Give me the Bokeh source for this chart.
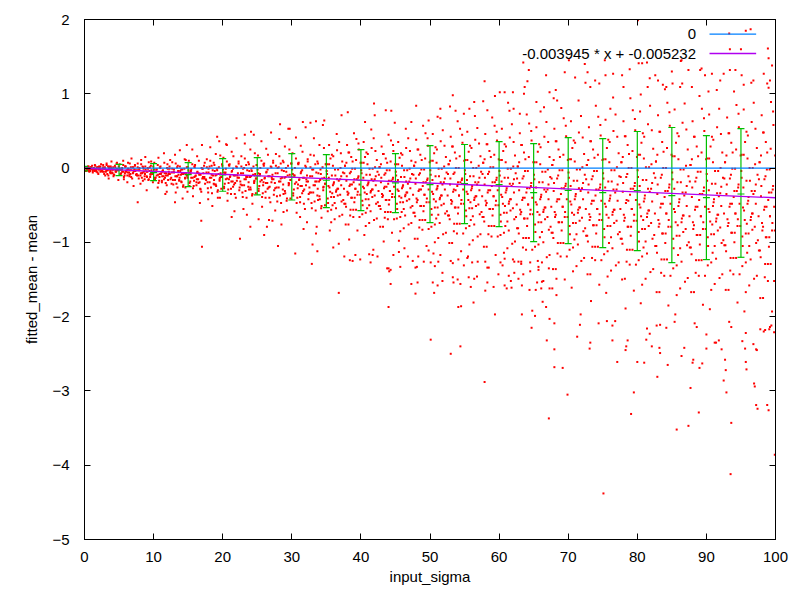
from bokeh.plotting import figure
from bokeh.models import Range1d, FixedTicker, LinearAxis, Label, BoxAnnotation
from bokeh.embed import file_html
from bokeh.resources import INLINE

# ---------------- data ----------------
x_ticks = [0, 10, 20, 30, 40, 50, 60, 70, 80, 90, 100]
y_ticks = [-5, -4, -3, -2, -1, 0, 1, 2]

# error bars
err_x = [0, 5, 10, 15, 20, 25, 30, 35, 40, 45, 50, 55, 60, 65, 70, 75, 80, 85, 90, 95]
err_mean = [-0.007, -0.025, -0.061, -0.088, -0.093, -0.106, -0.12, -0.164, -0.164, -0.20,
            -0.222, -0.209, -0.222, -0.33, -0.299, -0.33, -0.303, -0.37, -0.397, -0.349]
err_high = [0.024, 0.051, 0.06, 0.074, 0.128, 0.141, 0.195, 0.182, 0.249, 0.195,
            0.303, 0.317, 0.357, 0.33, 0.411, 0.397, 0.492, 0.546, 0.438, 0.532]
err_low = [-0.039, -0.101, -0.169, -0.249, -0.312, -0.362, -0.43, -0.532, -0.572, -0.599,
           -0.734, -0.748, -0.788, -0.99, -1.017, -1.071, -1.111, -1.273, -1.232, -1.201]

# zero line and fitted line
zero_x = [0, 100]
zero_y = [0, 0]
fit_x = [0, 100]
fit_y = [-0.005232, -0.399732]
zero_label = "0"
fit_label = "-0.003945 * x + -0.005232"

# scatter cloud, near region (x < 35)
near_x = [
    0.1, 0.3, 0.5, 0.6, 0.8, 0.9, 1.1, 1.2, 1.4, 1.5, 1.7, 1.8, 2.0, 2.1, 2.3, 2.4,
    2.6, 2.7, 2.9, 3.0, 3.2, 3.3, 3.5, 3.6, 3.8, 3.9, 4.1, 4.2, 4.4, 4.5, 4.7, 4.9,
    5.1, 5.2, 5.4, 5.6, 5.7, 5.9, 6.0, 6.2, 6.3, 6.5, 6.7, 6.8, 7.0, 7.1, 7.3, 7.4,
    7.6, 7.7, 7.9, 8.1, 8.2, 8.4, 8.5, 8.7, 8.8, 9.0, 9.2, 9.3, 9.5, 9.6, 9.8, 9.9,
    10.1, 10.2, 10.4, 10.6, 10.7, 10.9, 11.0, 11.2, 11.3, 11.5, 11.7, 11.8, 12.0, 12.1, 12.3, 12.4,
    12.6, 12.7, 12.9, 13.1, 13.2, 13.4, 13.5, 13.7, 13.8, 14.0, 14.2, 14.3, 14.5, 14.6, 14.8, 14.9,
    15.1, 15.2, 15.4, 15.6, 15.7, 15.9, 16.0, 16.2, 16.3, 16.5, 16.7, 16.8, 17.0, 17.1, 17.3, 17.4,
    17.6, 17.7, 17.9, 18.1, 18.2, 18.4, 18.5, 18.7, 18.8, 19.0, 19.2, 19.3, 19.5, 19.6, 19.8, 19.9,
    20.1, 20.2, 20.4, 20.6, 20.7, 20.9, 21.0, 21.2, 21.3, 21.5, 21.7, 21.8, 22.0, 22.1, 22.3, 22.4,
    22.6, 22.7, 22.9, 23.1, 23.2, 23.4, 23.5, 23.7, 23.8, 24.0, 24.2, 24.3, 24.5, 24.6, 24.8, 24.9,
    25.1, 25.2, 25.4, 25.6, 25.7, 25.9, 26.0, 26.2, 26.3, 26.5, 26.7, 26.8, 27.0, 27.1, 27.3, 27.4,
    27.6, 27.7, 27.9, 28.1, 28.2, 28.4, 28.5, 28.7, 28.8, 29.0, 29.2, 29.3, 29.5, 29.6, 29.8, 29.9,
    30.1, 30.2, 30.4, 30.6, 30.7, 30.9, 31.0, 31.2, 31.3, 31.5, 31.7, 31.8, 32.0, 32.1, 32.3, 32.4,
    32.6, 32.7, 32.9, 33.1, 33.2, 33.4, 33.5, 33.7, 33.8, 34.0, 34.2, 34.3, 34.5, 34.6, 34.8, 34.9,
]
near_y = [
    0.01, -0.02, 0.02, -0.04, 0.00, -0.01, 0.03, -0.06, -0.02, 0.04, -0.03, 0.01, -0.08, 0.02, -0.05, 0.05,
    -0.05, 0.04, -0.01, -0.10, 0.06, -0.03, -0.14, 0.02, -0.07, 0.09, -0.02, -0.11, 0.03, -0.05, 0.07, -0.16,
    0.05, -0.08, -0.02, 0.10, -0.15, 0.02, -0.05, -0.19, 0.07, -0.11, 0.01, 0.13, -0.07, -0.24, 0.04, -0.03,
    -0.10, 0.06, -0.03, -0.21, 0.11, -0.06, 0.01, -0.15, 0.15, -0.30, -0.01, 0.08, -0.12, 0.03, -0.08, -0.19,
    0.07, -0.13, -0.02, -0.26, 0.14, -0.08, 0.02, -0.19, -0.05, 0.20, -0.35, -0.10, 0.05, -0.16, -0.01, 0.11,
    -0.21, 0.08, -0.05, 0.18, -0.33, -0.11, 0.03, -0.16, 0.24, -0.02, -0.41, -0.08, 0.12, -0.26, 0.01, -0.13,
    0.10, -0.24, -0.04, 0.25, -0.38, -0.12, 0.04, -0.19, 0.16, -0.07, -0.47, -0.29, 0.31, -0.01, -0.14, 0.07,
    -0.16, 0.12, -0.33, 0.02, 0.28, -0.09, -0.51, 0.07, -0.22, 0.19, -0.03, -0.40, 0.36, -0.13, -0.28, 0.05,
    0.14, -0.27, -0.06, 0.31, -0.44, -0.15, 0.05, -0.35, 0.22, -0.01, -0.58, -0.20, 0.40, -0.10, 0.09, -0.30,
    -0.22, 0.16, -0.39, 0.00, 0.33, -0.12, -0.63, 0.08, -0.29, 0.25, -0.04, -0.48, 0.45, -0.17, -0.34, 0.04,
    0.17, -0.31, -0.08, 0.36, -0.52, -0.19, 0.06, -0.40, 0.26, -0.02, -0.70, -0.25, 0.48, -0.13, 0.10, -0.36,
    -0.27, 0.19, -0.45, 0.01, 0.39, -0.14, -0.76, 0.10, -0.35, 0.29, -0.05, -0.57, 0.53, -0.21, -0.41, 0.06,
    0.20, -0.37, -0.10, 0.41, -0.60, -0.22, 0.07, -0.46, 0.30, -0.03, -0.82, -0.29, 0.55, -0.15, 0.12, -0.42,
    -0.33, 0.18, -0.54, -0.02, 0.40, -0.18, -0.88, 0.09, -0.43, 0.31, -0.08, -0.67, 0.58, -0.25, -0.50, 0.05,
]

# inner core of the near region (x < 35)
core_x = [
    0.15, 0.3, 0.45, 0.65, 0.8, 0.9, 1.1, 1.25, 1.35, 1.5, 1.6, 1.75, 1.95, 2.05, 2.2, 2.35,
    2.65, 2.8, 2.95, 3.15, 3.3, 3.4, 3.6, 3.75, 3.85, 4.0, 4.1, 4.25, 4.45, 4.55, 4.7, 4.85,
    5.15, 5.3, 5.45, 5.65, 5.8, 5.9, 6.1, 6.25, 6.35, 6.5, 6.6, 6.75, 6.95, 7.05, 7.2, 7.35,
    7.65, 7.8, 7.95, 8.15, 8.3, 8.4, 8.6, 8.75, 8.85, 9.0, 9.1, 9.25, 9.45, 9.55, 9.7, 9.85,
    10.15, 10.3, 10.45, 10.65, 10.8, 10.9, 11.1, 11.25, 11.35, 11.5, 11.6, 11.75, 11.95, 12.05, 12.2, 12.35,
    12.65, 12.8, 12.95, 13.15, 13.3, 13.4, 13.6, 13.75, 13.85, 14.0, 14.1, 14.25, 14.45, 14.55, 14.7, 14.85,
    15.15, 15.3, 15.45, 15.65, 15.8, 15.9, 16.1, 16.25, 16.35, 16.5, 16.6, 16.75, 16.95, 17.05, 17.2, 17.35,
    17.65, 17.8, 17.95, 18.15, 18.3, 18.4, 18.6, 18.75, 18.85, 19.0, 19.1, 19.25, 19.45, 19.55, 19.7, 19.85,
    20.15, 20.3, 20.45, 20.65, 20.8, 20.9, 21.1, 21.25, 21.35, 21.5, 21.6, 21.75, 21.95, 22.05, 22.2, 22.35,
    22.65, 22.8, 22.95, 23.15, 23.3, 23.4, 23.6, 23.75, 23.85, 24.0, 24.1, 24.25, 24.45, 24.55, 24.7, 24.85,
    25.15, 25.3, 25.45, 25.65, 25.8, 25.9, 26.1, 26.25, 26.35, 26.5, 26.6, 26.75, 26.95, 27.05, 27.2, 27.35,
    27.65, 27.8, 27.95, 28.15, 28.3, 28.4, 28.6, 28.75, 28.85, 29.0, 29.1, 29.25, 29.45, 29.55, 29.7, 29.85,
    30.15, 30.3, 30.45, 30.65, 30.8, 30.9, 31.1, 31.25, 31.35, 31.5, 31.6, 31.75, 31.95, 32.05, 32.2, 32.35,
    32.65, 32.8, 32.95, 33.15, 33.3, 33.4, 33.6, 33.75, 33.85, 34.0, 34.1, 34.25, 34.45, 34.55, 34.7, 34.85,
]
core_y = [
    0.00, -0.03, 0.01, -0.02, -0.04, 0.01, -0.01, -0.02, 0.00, -0.04, -0.01, -0.05, 0.01, -0.02, 0.00, -0.02,
    -0.01, -0.05, 0.01, -0.03, -0.08, 0.02, -0.02, -0.04, 0.00, -0.06, -0.02, -0.09, 0.01, -0.04, -0.01, -0.03,
    -0.02, -0.07, 0.00, -0.05, -0.10, 0.02, -0.03, -0.06, -0.01, -0.09, -0.03, -0.12, 0.01, -0.06, -0.02, -0.04,
    -0.03, -0.10, 0.00, -0.07, -0.13, 0.02, -0.05, -0.08, -0.02, -0.11, -0.05, -0.16, 0.01, -0.08, -0.03, -0.06,
    -0.05, -0.13, -0.02, -0.09, -0.17, 0.01, -0.07, -0.11, -0.03, -0.15, -0.07, -0.20, 0.00, -0.10, -0.05, -0.08,
    -0.06, -0.16, -0.02, -0.11, -0.21, 0.01, -0.09, -0.13, -0.04, -0.18, -0.08, -0.25, -0.01, -0.13, -0.07, -0.10,
    -0.06, -0.18, -0.02, -0.13, -0.24, 0.02, -0.10, -0.15, -0.05, -0.20, -0.09, -0.28, 0.00, -0.14, -0.07, -0.12,
    -0.06, -0.19, -0.01, -0.13, -0.26, 0.03, -0.10, -0.16, -0.04, -0.22, -0.09, -0.32, 0.01, -0.15, -0.07, -0.12,
    -0.06, -0.21, -0.01, -0.14, -0.29, 0.04, -0.11, -0.18, -0.04, -0.25, -0.10, -0.35, 0.02, -0.17, -0.07, -0.13,
    -0.07, -0.23, -0.01, -0.15, -0.31, 0.04, -0.12, -0.19, -0.04, -0.26, -0.11, -0.37, 0.02, -0.18, -0.08, -0.14,
    -0.07, -0.24, 0.00, -0.16, -0.34, 0.05, -0.13, -0.20, -0.05, -0.28, -0.11, -0.40, 0.02, -0.19, -0.09, -0.15,
    -0.07, -0.26, 0.00, -0.18, -0.37, 0.06, -0.13, -0.22, -0.04, -0.31, -0.12, -0.44, 0.03, -0.20, -0.09, -0.16,
    -0.08, -0.29, 0.00, -0.19, -0.40, 0.06, -0.15, -0.24, -0.05, -0.34, -0.13, -0.48, 0.03, -0.23, -0.10, -0.18,
    -0.11, -0.33, -0.02, -0.23, -0.45, 0.05, -0.18, -0.28, -0.07, -0.38, -0.16, -0.54, 0.01, -0.26, -0.13, -0.21,
]

# scatter cloud, second layer over the full range
dense_x = [
    0.05, 0.2, 0.35, 0.45, 0.6, 0.7, 0.85, 0.95, 1.05, 1.2, 1.3, 1.45, 1.55, 1.65, 1.8, 1.9, 2.05, 2.15, 2.3, 2.45,
    2.55, 2.7, 2.85, 2.95, 3.1, 3.2, 3.35, 3.45, 3.55, 3.7, 3.8, 3.95, 4.05, 4.15, 4.3, 4.4, 4.55, 4.65, 4.8, 4.95,
    5.05, 5.2, 5.35, 5.45, 5.6, 5.7, 5.85, 5.95, 6.05, 6.2, 6.3, 6.45, 6.55, 6.65, 6.8, 6.9, 7.05, 7.15, 7.3, 7.45,
    7.55, 7.7, 7.85, 7.95, 8.1, 8.2, 8.35, 8.45, 8.55, 8.7, 8.8, 8.95, 9.05, 9.15, 9.3, 9.4, 9.55, 9.65, 9.8, 9.95,
    10.05, 10.2, 10.35, 10.45, 10.6, 10.7, 10.85, 10.95, 11.05, 11.2, 11.3, 11.45, 11.55, 11.65, 11.8, 11.9, 12.05, 12.15, 12.3, 12.45,
    12.55, 12.7, 12.85, 12.95, 13.1, 13.2, 13.35, 13.45, 13.55, 13.7, 13.8, 13.95, 14.05, 14.15, 14.3, 14.4, 14.55, 14.65, 14.8, 14.95,
    15.05, 15.2, 15.35, 15.45, 15.6, 15.7, 15.85, 15.95, 16.05, 16.2, 16.3, 16.45, 16.55, 16.65, 16.8, 16.9, 17.05, 17.15, 17.3, 17.45,
    17.55, 17.7, 17.85, 17.95, 18.1, 18.2, 18.35, 18.45, 18.55, 18.7, 18.8, 18.95, 19.05, 19.15, 19.3, 19.4, 19.55, 19.65, 19.8, 19.95,
    20.05, 20.2, 20.35, 20.45, 20.6, 20.7, 20.85, 20.95, 21.05, 21.2, 21.3, 21.45, 21.55, 21.65, 21.8, 21.9, 22.05, 22.15, 22.3, 22.45,
    22.55, 22.7, 22.85, 22.95, 23.1, 23.2, 23.35, 23.45, 23.55, 23.7, 23.8, 23.95, 24.05, 24.15, 24.3, 24.4, 24.55, 24.65, 24.8, 24.95,
    25.05, 25.2, 25.35, 25.45, 25.6, 25.7, 25.85, 25.95, 26.05, 26.2, 26.3, 26.45, 26.55, 26.65, 26.8, 26.9, 27.05, 27.15, 27.3, 27.45,
    27.55, 27.7, 27.85, 27.95, 28.1, 28.2, 28.35, 28.45, 28.55, 28.7, 28.8, 28.95, 29.05, 29.15, 29.3, 29.4, 29.55, 29.65, 29.8, 29.95,
    30.05, 30.2, 30.35, 30.45, 30.6, 30.7, 30.85, 30.95, 31.05, 31.2, 31.3, 31.45, 31.55, 31.65, 31.8, 31.9, 32.05, 32.15, 32.3, 32.45,
    32.55, 32.7, 32.85, 32.95, 33.1, 33.2, 33.35, 33.45, 33.55, 33.7, 33.8, 33.95, 34.05, 34.15, 34.3, 34.4, 34.55, 34.65, 34.8, 34.95,
    35.05, 35.2, 35.35, 35.45, 35.6, 35.7, 35.85, 35.95, 36.05, 36.2, 36.3, 36.45, 36.55, 36.65, 36.8, 36.9, 37.05, 37.15, 37.3, 37.45,
    37.55, 37.7, 37.85, 37.95, 38.1, 38.2, 38.35, 38.45, 38.55, 38.7, 38.8, 38.95, 39.05, 39.15, 39.3, 39.4, 39.55, 39.65, 39.8, 39.95,
    40.05, 40.2, 40.35, 40.45, 40.6, 40.7, 40.85, 40.95, 41.05, 41.2, 41.3, 41.45, 41.55, 41.65, 41.8, 41.9, 42.05, 42.15, 42.3, 42.45,
    42.55, 42.7, 42.85, 42.95, 43.1, 43.2, 43.35, 43.45, 43.55, 43.7, 43.8, 43.95, 44.05, 44.15, 44.3, 44.4, 44.55, 44.65, 44.8, 44.95,
    45.05, 45.2, 45.35, 45.45, 45.6, 45.7, 45.85, 45.95, 46.05, 46.2, 46.3, 46.45, 46.55, 46.65, 46.8, 46.9, 47.05, 47.15, 47.3, 47.45,
    47.55, 47.7, 47.85, 47.95, 48.1, 48.2, 48.35, 48.45, 48.55, 48.7, 48.8, 48.95, 49.05, 49.15, 49.3, 49.4, 49.55, 49.65, 49.8, 49.95,
    50.05, 50.2, 50.35, 50.45, 50.6, 50.7, 50.85, 50.95, 51.05, 51.2, 51.3, 51.45, 51.55, 51.65, 51.8, 51.9, 52.05, 52.15, 52.3, 52.45,
    52.55, 52.7, 52.85, 52.95, 53.1, 53.2, 53.35, 53.45, 53.55, 53.7, 53.8, 53.95, 54.05, 54.15, 54.3, 54.4, 54.55, 54.65, 54.8, 54.95,
    55.05, 55.2, 55.35, 55.45, 55.6, 55.7, 55.85, 55.95, 56.05, 56.2, 56.3, 56.45, 56.55, 56.65, 56.8, 56.9, 57.05, 57.15, 57.3, 57.45,
    57.55, 57.7, 57.85, 57.95, 58.1, 58.2, 58.35, 58.45, 58.55, 58.7, 58.8, 58.95, 59.05, 59.15, 59.3, 59.4, 59.55, 59.65, 59.8, 59.95,
    60.05, 60.2, 60.35, 60.45, 60.6, 60.7, 60.85, 60.95, 61.05, 61.2, 61.3, 61.45, 61.55, 61.65, 61.8, 61.9, 62.05, 62.15, 62.3, 62.45,
    62.55, 62.7, 62.85, 62.95, 63.1, 63.2, 63.35, 63.45, 63.55, 63.7, 63.8, 63.95, 64.05, 64.15, 64.3, 64.4, 64.55, 64.65, 64.8, 64.95,
    65.05, 65.2, 65.35, 65.45, 65.6, 65.7, 65.85, 65.95, 66.05, 66.2, 66.3, 66.45, 66.55, 66.65, 66.8, 66.9, 67.05, 67.15, 67.3, 67.45,
    67.55, 67.7, 67.85, 67.95, 68.1, 68.2, 68.35, 68.45, 68.55, 68.7, 68.8, 68.95, 69.05, 69.15, 69.3, 69.4, 69.55, 69.65, 69.8, 69.95,
    70.05, 70.2, 70.35, 70.45, 70.6, 70.7, 70.85, 70.95, 71.05, 71.2, 71.3, 71.45, 71.55, 71.65, 71.8, 71.9, 72.05, 72.15, 72.3, 72.45,
    72.55, 72.7, 72.85, 72.95, 73.1, 73.2, 73.35, 73.45, 73.55, 73.7, 73.8, 73.95, 74.05, 74.15, 74.3, 74.4, 74.55, 74.65, 74.8, 74.95,
    75.05, 75.2, 75.35, 75.45, 75.6, 75.7, 75.85, 75.95, 76.05, 76.2, 76.3, 76.45, 76.55, 76.65, 76.8, 76.9, 77.05, 77.15, 77.3, 77.45,
    77.55, 77.7, 77.85, 77.95, 78.1, 78.2, 78.35, 78.45, 78.55, 78.7, 78.8, 78.95, 79.05, 79.15, 79.3, 79.4, 79.55, 79.65, 79.8, 79.95,
    80.05, 80.2, 80.35, 80.45, 80.6, 80.7, 80.85, 80.95, 81.05, 81.2, 81.3, 81.45, 81.55, 81.65, 81.8, 81.9, 82.05, 82.15, 82.3, 82.45,
    82.55, 82.7, 82.85, 82.95, 83.1, 83.2, 83.35, 83.45, 83.55, 83.7, 83.8, 83.95, 84.05, 84.15, 84.3, 84.4, 84.55, 84.65, 84.8, 84.95,
    85.05, 85.2, 85.35, 85.45, 85.6, 85.7, 85.85, 85.95, 86.05, 86.2, 86.3, 86.45, 86.55, 86.65, 86.8, 86.9, 87.05, 87.15, 87.3, 87.45,
    87.55, 87.7, 87.85, 87.95, 88.1, 88.2, 88.35, 88.45, 88.55, 88.7, 88.8, 88.95, 89.05, 89.15, 89.3, 89.4, 89.55, 89.65, 89.8, 89.95,
    90.05, 90.2, 90.35, 90.45, 90.6, 90.7, 90.85, 90.95, 91.05, 91.2, 91.3, 91.45, 91.55, 91.65, 91.8, 91.9, 92.05, 92.15, 92.3, 92.45,
    92.55, 92.7, 92.85, 92.95, 93.1, 93.2, 93.35, 93.45, 93.55, 93.7, 93.8, 93.95, 94.05, 94.15, 94.3, 94.4, 94.55, 94.65, 94.8, 94.95,
    95.05, 95.2, 95.35, 95.45, 95.6, 95.7, 95.85, 95.95, 96.05, 96.2, 96.3, 96.45, 96.55, 96.65, 96.8, 96.9, 97.05, 97.15, 97.3, 97.45,
    97.55, 97.7, 97.85, 97.95, 98.1, 98.2, 98.35, 98.45, 98.55, 98.7, 98.8, 98.95, 99.05, 99.15, 99.3, 99.4, 99.55, 99.65, 99.8, 99.95,
]
dense_y = [
    0.00, -0.04, -0.01, -0.02, 0.02, -0.05, -0.03, 0.01, -0.01, -0.04, 0.00, -0.02, 0.03, -0.03, -0.01, -0.06, 0.01, -0.02, 0.02, -0.04,
    -0.04, 0.01, -0.08, -0.01, -0.05, 0.04, -0.03, -0.10, 0.00, -0.06, 0.02, -0.02, -0.07, 0.01, -0.09, -0.02, -0.05, 0.06, -0.03, 0.02,
    0.00, -0.09, -0.02, -0.05, 0.04, -0.12, -0.07, 0.02, -0.04, -0.10, -0.01, -0.06, 0.06, -0.08, -0.03, -0.14, 0.01, -0.04, 0.03, -0.09,
    -0.08, 0.01, -0.14, -0.03, -0.10, 0.05, -0.07, -0.17, -0.01, -0.11, 0.02, -0.05, -0.12, 0.00, -0.15, -0.04, -0.09, 0.09, -0.06, 0.02,
    -0.02, -0.15, -0.05, -0.10, 0.04, -0.20, -0.12, 0.00, -0.08, -0.17, -0.04, -0.11, 0.07, -0.13, -0.07, -0.23, -0.01, -0.08, 0.02, -0.15,
    -0.13, -0.01, -0.22, -0.06, -0.16, 0.06, -0.11, -0.26, -0.04, -0.17, 0.02, -0.09, -0.19, -0.02, -0.23, -0.07, -0.14, 0.11, -0.10, 0.01,
    -0.03, -0.20, -0.07, -0.13, 0.05, -0.27, -0.17, 0.01, -0.11, -0.23, -0.06, -0.15, 0.10, -0.19, -0.09, -0.32, -0.01, -0.12, 0.03, -0.21,
    -0.15, 0.01, -0.27, -0.06, -0.19, 0.10, -0.13, -0.34, -0.03, -0.21, 0.04, -0.10, -0.24, -0.01, -0.30, -0.08, -0.17, 0.17, -0.12, 0.03,
    -0.02, -0.25, -0.07, -0.15, 0.09, -0.34, -0.20, 0.03, -0.12, -0.28, -0.05, -0.18, 0.16, -0.22, -0.10, -0.40, 0.01, -0.13, 0.06, -0.26,
    -0.18, 0.02, -0.33, -0.07, -0.23, 0.13, -0.15, -0.40, -0.03, -0.25, 0.05, -0.12, -0.29, -0.01, -0.35, -0.09, -0.20, 0.20, -0.14, 0.04,
    -0.02, -0.28, -0.09, -0.18, 0.10, -0.39, -0.23, 0.03, -0.14, -0.32, -0.06, -0.20, 0.18, -0.26, -0.11, -0.46, 0.01, -0.15, 0.07, -0.30,
    -0.20, 0.03, -0.38, -0.07, -0.26, 0.16, -0.18, -0.47, -0.03, -0.29, 0.08, -0.13, -0.34, 0.00, -0.41, -0.10, -0.23, 0.25, -0.16, 0.06,
    -0.02, -0.34, -0.10, -0.21, 0.13, -0.47, -0.27, 0.05, -0.16, -0.39, -0.07, -0.24, 0.22, -0.31, -0.13, -0.55, 0.01, -0.18, 0.09, -0.35,
    -0.26, 0.01, -0.47, -0.11, -0.33, 0.17, -0.23, -0.57, -0.06, -0.37, 0.06, -0.18, -0.42, -0.02, -0.51, -0.14, -0.30, 0.27, -0.21, 0.05,
    -0.04, -0.41, -0.13, -0.26, 0.13, -0.56, -0.34, 0.03, -0.21, -0.47, -0.10, -0.30, 0.24, -0.37, -0.17, -0.65, 0.00, -0.23, 0.09, -0.43,
    -0.28, 0.03, -0.52, -0.11, -0.36, 0.21, -0.24, -0.64, -0.05, -0.40, 0.09, -0.19, -0.46, -0.01, -0.56, -0.15, -0.32, 0.33, -0.22, 0.07,
    -0.03, -0.44, -0.13, -0.27, 0.15, -0.60, -0.35, 0.05, -0.21, -0.50, -0.09, -0.31, 0.27, -0.39, -0.17, -0.70, 0.01, -0.23, 0.11, -0.46,
    -0.31, 0.01, -0.55, -0.13, -0.39, 0.19, -0.27, -0.67, -0.07, -0.43, 0.07, -0.21, -0.49, -0.03, -0.59, -0.17, -0.35, 0.31, -0.25, 0.05,
    -0.05, -0.48, -0.16, -0.31, 0.14, -0.66, -0.40, 0.03, -0.25, -0.55, -0.12, -0.36, 0.27, -0.44, -0.21, -0.76, -0.01, -0.27, 0.10, -0.51,
    -0.36, 0.03, -0.65, -0.14, -0.46, 0.25, -0.31, -0.80, -0.07, -0.51, 0.11, -0.24, -0.58, -0.02, -0.70, -0.19, -0.41, 0.40, -0.29, 0.08,
    -0.03, -0.55, -0.16, -0.35, 0.20, -0.76, -0.45, 0.07, -0.27, -0.63, -0.11, -0.40, 0.36, -0.50, -0.22, -0.89, 0.02, -0.29, 0.15, -0.58,
    -0.37, 0.05, -0.69, -0.14, -0.48, 0.29, -0.32, -0.85, -0.06, -0.53, 0.13, -0.24, -0.61, 0.00, -0.75, -0.19, -0.43, 0.45, -0.29, 0.10,
    -0.03, -0.57, -0.16, -0.35, 0.22, -0.78, -0.46, 0.08, -0.27, -0.65, -0.11, -0.40, 0.38, -0.51, -0.22, -0.92, 0.03, -0.30, 0.16, -0.59,
    -0.38, 0.07, -0.72, -0.13, -0.50, 0.32, -0.33, -0.89, -0.05, -0.55, 0.15, -0.24, -0.64, 0.01, -0.78, -0.19, -0.44, 0.49, -0.30, 0.12,
    -0.04, -0.63, -0.18, -0.39, 0.23, -0.87, -0.51, 0.08, -0.30, -0.72, -0.13, -0.45, 0.41, -0.57, -0.24, -1.02, 0.02, -0.33, 0.17, -0.66,
    -0.49, 0.02, -0.88, -0.20, -0.62, 0.31, -0.43, -1.07, -0.11, -0.68, 0.12, -0.33, -0.78, -0.04, -0.94, -0.27, -0.56, 0.50, -0.40, 0.08,
    -0.09, -0.76, -0.26, -0.49, 0.22, -1.03, -0.63, 0.05, -0.39, -0.86, -0.19, -0.56, 0.42, -0.69, -0.32, -1.20, -0.02, -0.42, 0.15, -0.79,
    -0.52, 0.04, -0.94, -0.20, -0.66, 0.36, -0.45, -1.15, -0.10, -0.73, 0.15, -0.35, -0.84, -0.03, -1.01, -0.27, -0.59, 0.57, -0.42, 0.11,
    -0.06, -0.78, -0.24, -0.49, 0.27, -1.07, -0.63, 0.09, -0.38, -0.89, -0.17, -0.56, 0.48, -0.71, -0.31, -1.25, 0.01, -0.42, 0.19, -0.81,
    -0.55, 0.04, -0.99, -0.22, -0.70, 0.36, -0.48, -1.21, -0.11, -0.77, 0.14, -0.37, -0.88, -0.04, -1.06, -0.29, -0.62, 0.58, -0.44, 0.11,
    -0.07, -0.82, -0.26, -0.52, 0.27, -1.12, -0.67, 0.08, -0.41, -0.93, -0.18, -0.59, 0.50, -0.74, -0.33, -1.31, 0.01, -0.44, 0.20, -0.86,
    -0.55, 0.08, -1.02, -0.20, -0.71, 0.43, -0.47, -1.26, -0.08, -0.79, 0.19, -0.36, -0.91, 0.00, -1.10, -0.28, -0.63, 0.66, -0.43, 0.15,
    -0.03, -0.86, -0.24, -0.53, 0.34, -1.19, -0.70, 0.13, -0.41, -0.99, -0.16, -0.61, 0.59, -0.78, -0.32, -1.40, 0.05, -0.45, 0.26, -0.90,
    -0.61, 0.09, -1.14, -0.22, -0.79, 0.49, -0.53, -1.41, -0.09, -0.88, 0.22, -0.39, -1.01, 0.00, -1.23, -0.31, -0.70, 0.75, -0.48, 0.18,
    -0.06, -0.95, -0.28, -0.59, 0.34, -1.31, -0.77, 0.12, -0.46, -1.08, -0.19, -0.68, 0.61, -0.86, -0.37, -1.53, 0.03, -0.51, 0.25, -1.00,
    -0.65, 0.04, -1.16, -0.26, -0.82, 0.42, -0.56, -1.41, -0.13, -0.90, 0.16, -0.43, -1.03, -0.05, -1.24, -0.35, -0.73, 0.67, -0.52, 0.12,
    -0.08, -0.93, -0.30, -0.59, 0.29, -1.27, -0.76, 0.08, -0.46, -1.05, -0.21, -0.68, 0.55, -0.84, -0.38, -1.48, 0.00, -0.51, 0.21, -0.97,
    -0.61, 0.08, -1.12, -0.22, -0.78, 0.47, -0.52, -1.38, -0.09, -0.87, 0.21, -0.39, -1.00, -0.01, -1.21, -0.31, -0.69, 0.73, -0.48, 0.17,
    -0.04, -0.92, -0.26, -0.57, 0.35, -1.27, -0.75, 0.13, -0.44, -1.05, -0.17, -0.66, 0.62, -0.83, -0.35, -1.49, 0.05, -0.48, 0.27, -0.97,
    -0.65, 0.08, -1.20, -0.24, -0.84, 0.48, -0.56, -1.47, -0.11, -0.93, 0.21, -0.43, -1.06, -0.02, -1.29, -0.33, -0.74, 0.76, -0.52, 0.17,
]

# third layer, x >= 35
fill_x = [
    35.1, 35.25, 35.4, 35.55, 35.7, 35.8, 35.95, 36.1, 36.25, 36.4, 36.55, 36.7, 36.85, 37.0, 37.15, 37.3,
    37.6, 37.75, 37.9, 38.05, 38.2, 38.3, 38.45, 38.6, 38.75, 38.9, 39.05, 39.2, 39.35, 39.5, 39.65, 39.8,
    40.1, 40.25, 40.4, 40.55, 40.7, 40.8, 40.95, 41.1, 41.25, 41.4, 41.55, 41.7, 41.85, 42.0, 42.15, 42.3,
    42.6, 42.75, 42.9, 43.05, 43.2, 43.3, 43.45, 43.6, 43.75, 43.9, 44.05, 44.2, 44.35, 44.5, 44.65, 44.8,
    45.1, 45.25, 45.4, 45.55, 45.7, 45.8, 45.95, 46.1, 46.25, 46.4, 46.55, 46.7, 46.85, 47.0, 47.15, 47.3,
    47.6, 47.75, 47.9, 48.05, 48.2, 48.3, 48.45, 48.6, 48.75, 48.9, 49.05, 49.2, 49.35, 49.5, 49.65, 49.8,
    50.1, 50.25, 50.4, 50.55, 50.7, 50.8, 50.95, 51.1, 51.25, 51.4, 51.55, 51.7, 51.85, 52.0, 52.15, 52.3,
    52.6, 52.75, 52.9, 53.05, 53.2, 53.3, 53.45, 53.6, 53.75, 53.9, 54.05, 54.2, 54.35, 54.5, 54.65, 54.8,
    55.1, 55.25, 55.4, 55.55, 55.7, 55.8, 55.95, 56.1, 56.25, 56.4, 56.55, 56.7, 56.85, 57.0, 57.15, 57.3,
    57.6, 57.75, 57.9, 58.05, 58.2, 58.3, 58.45, 58.6, 58.75, 58.9, 59.05, 59.2, 59.35, 59.5, 59.65, 59.8,
    60.1, 60.25, 60.4, 60.55, 60.7, 60.8, 60.95, 61.1, 61.25, 61.4, 61.55, 61.7, 61.85, 62.0, 62.15, 62.3,
    62.6, 62.75, 62.9, 63.05, 63.2, 63.3, 63.45, 63.6, 63.75, 63.9, 64.05, 64.2, 64.35, 64.5, 64.65, 64.8,
    65.1, 65.25, 65.4, 65.55, 65.7, 65.8, 65.95, 66.1, 66.25, 66.4, 66.55, 66.7, 66.85, 67.0, 67.15, 67.3,
    67.6, 67.75, 67.9, 68.05, 68.2, 68.3, 68.45, 68.6, 68.75, 68.9, 69.05, 69.2, 69.35, 69.5, 69.65, 69.8,
    70.1, 70.25, 70.4, 70.55, 70.7, 70.8, 70.95, 71.1, 71.25, 71.4, 71.55, 71.7, 71.85, 72.0, 72.15, 72.3,
    72.6, 72.75, 72.9, 73.05, 73.2, 73.3, 73.45, 73.6, 73.75, 73.9, 74.05, 74.2, 74.35, 74.5, 74.65, 74.8,
    75.1, 75.25, 75.4, 75.55, 75.7, 75.8, 75.95, 76.1, 76.25, 76.4, 76.55, 76.7, 76.85, 77.0, 77.15, 77.3,
    77.6, 77.75, 77.9, 78.05, 78.2, 78.3, 78.45, 78.6, 78.75, 78.9, 79.05, 79.2, 79.35, 79.5, 79.65, 79.8,
    80.1, 80.25, 80.4, 80.55, 80.7, 80.8, 80.95, 81.1, 81.25, 81.4, 81.55, 81.7, 81.85, 82.0, 82.15, 82.3,
    82.6, 82.75, 82.9, 83.05, 83.2, 83.3, 83.45, 83.6, 83.75, 83.9, 84.05, 84.2, 84.35, 84.5, 84.65, 84.8,
    85.1, 85.25, 85.4, 85.55, 85.7, 85.8, 85.95, 86.1, 86.25, 86.4, 86.55, 86.7, 86.85, 87.0, 87.15, 87.3,
    87.6, 87.75, 87.9, 88.05, 88.2, 88.3, 88.45, 88.6, 88.75, 88.9, 89.05, 89.2, 89.35, 89.5, 89.65, 89.8,
    90.1, 90.25, 90.4, 90.55, 90.7, 90.8, 90.95, 91.1, 91.25, 91.4, 91.55, 91.7, 91.85, 92.0, 92.15, 92.3,
    92.6, 92.75, 92.9, 93.05, 93.2, 93.3, 93.45, 93.6, 93.75, 93.9, 94.05, 94.2, 94.35, 94.5, 94.65, 94.8,
    95.1, 95.25, 95.4, 95.55, 95.7, 95.8, 95.95, 96.1, 96.25, 96.4, 96.55, 96.7, 96.85, 97.0, 97.15, 97.3,
    97.6, 97.75, 97.9, 98.05, 98.2, 98.3, 98.45, 98.6, 98.75, 98.9, 99.05, 99.2, 99.35, 99.5, 99.65, 99.8,
]
fill_y = [
    -0.08, -0.47, 0.05, -0.32, -0.73, 0.18, -0.23, -0.39, -0.02, -0.54, -0.15, -0.28, 0.35, -0.36, -0.11, -0.63,
    -0.07, -0.48, 0.07, -0.32, -0.76, 0.21, -0.22, -0.40, -0.01, -0.56, -0.15, -0.28, 0.39, -0.36, -0.11, -0.66,
    -0.07, -0.50, 0.07, -0.33, -0.78, 0.21, -0.23, -0.42, -0.01, -0.58, -0.15, -0.29, 0.40, -0.37, -0.11, -0.68,
    -0.09, -0.51, 0.05, -0.35, -0.79, 0.19, -0.25, -0.43, -0.03, -0.59, -0.17, -0.31, 0.37, -0.39, -0.13, -0.69,
    -0.10, -0.55, 0.05, -0.38, -0.85, 0.20, -0.27, -0.46, -0.03, -0.64, -0.18, -0.33, 0.40, -0.42, -0.14, -0.74,
    -0.09, -0.60, 0.08, -0.41, -0.95, 0.25, -0.29, -0.51, -0.02, -0.70, -0.19, -0.36, 0.47, -0.46, -0.14, -0.82,
    -0.09, -0.63, 0.10, -0.42, -1.00, 0.28, -0.29, -0.53, -0.01, -0.74, -0.19, -0.37, 0.51, -0.48, -0.14, -0.87,
    -0.08, -0.64, 0.10, -0.43, -1.01, 0.29, -0.29, -0.53, 0.00, -0.75, -0.19, -0.37, 0.53, -0.48, -0.14, -0.88,
    -0.08, -0.65, 0.11, -0.43, -1.03, 0.30, -0.30, -0.54, 0.00, -0.76, -0.19, -0.38, 0.54, -0.49, -0.13, -0.89,
    -0.08, -0.66, 0.12, -0.44, -1.06, 0.32, -0.30, -0.55, 0.01, -0.78, -0.19, -0.38, 0.57, -0.50, -0.13, -0.92,
    -0.10, -0.72, 0.11, -0.48, -1.14, 0.32, -0.33, -0.60, -0.01, -0.84, -0.21, -0.42, 0.59, -0.54, -0.15, -0.99,
    -0.14, -0.81, 0.08, -0.56, -1.26, 0.31, -0.40, -0.68, -0.04, -0.94, -0.27, -0.49, 0.60, -0.62, -0.20, -1.10,
    -0.15, -0.86, 0.08, -0.59, -1.33, 0.32, -0.42, -0.73, -0.05, -1.00, -0.29, -0.53, 0.62, -0.66, -0.22, -1.17,
    -0.14, -0.87, 0.11, -0.59, -1.36, 0.36, -0.42, -0.73, -0.03, -1.01, -0.27, -0.52, 0.67, -0.66, -0.21, -1.19,
    -0.13, -0.89, 0.12, -0.60, -1.39, 0.37, -0.42, -0.74, -0.02, -1.03, -0.27, -0.53, 0.70, -0.67, -0.20, -1.21,
    -0.15, -0.91, 0.11, -0.62, -1.43, 0.36, -0.44, -0.77, -0.04, -1.06, -0.29, -0.55, 0.69, -0.70, -0.22, -1.24,
    -0.14, -0.93, 0.12, -0.63, -1.46, 0.38, -0.44, -0.78, -0.03, -1.08, -0.29, -0.56, 0.72, -0.71, -0.22, -1.27,
    -0.12, -0.95, 0.15, -0.63, -1.49, 0.43, -0.43, -0.79, 0.00, -1.10, -0.28, -0.55, 0.78, -0.71, -0.20, -1.30,
    -0.12, -0.99, 0.18, -0.65, -1.57, 0.47, -0.45, -0.82, 0.01, -1.15, -0.28, -0.57, 0.84, -0.74, -0.20, -1.36,
    -0.13, -1.05, 0.18, -0.70, -1.67, 0.49, -0.48, -0.88, 0.00, -1.23, -0.31, -0.61, 0.88, -0.79, -0.22, -1.45,
    -0.15, -1.08, 0.16, -0.73, -1.71, 0.47, -0.51, -0.91, -0.02, -1.26, -0.33, -0.64, 0.87, -0.82, -0.24, -1.48,
    -0.18, -1.07, 0.12, -0.73, -1.67, 0.42, -0.52, -0.90, -0.05, -1.24, -0.35, -0.65, 0.80, -0.82, -0.26, -1.45,
    -0.17, -1.05, 0.13, -0.72, -1.64, 0.42, -0.51, -0.89, -0.04, -1.22, -0.34, -0.63, 0.80, -0.80, -0.25, -1.43,
    -0.14, -1.04, 0.17, -0.69, -1.64, 0.47, -0.48, -0.87, -0.01, -1.21, -0.31, -0.61, 0.85, -0.78, -0.22, -1.43,
    -0.13, -1.05, 0.18, -0.70, -1.67, 0.49, -0.48, -0.88, 0.00, -1.23, -0.31, -0.61, 0.88, -0.79, -0.22, -1.45,
    -0.15, -1.11, 0.17, -0.74, -1.75, 0.48, -0.52, -0.93, -0.02, -1.29, -0.33, -0.65, 0.89, -0.84, -0.24, -1.52,
]

# scatter cloud, middle region (35 <= x < 67.5)
mid_x = [
    35.1, 35.2, 35.3, 35.4, 35.5, 35.7, 35.8, 35.9, 36.0, 36.1, 36.2, 36.4, 36.5, 36.6, 36.7, 36.8, 37.0, 37.1, 37.2, 37.4,
    37.6, 37.7, 37.8, 37.9, 38.0, 38.2, 38.3, 38.4, 38.5, 38.6, 38.7, 38.9, 39.0, 39.1, 39.2, 39.3, 39.5, 39.6, 39.7, 39.9,
    40.1, 40.2, 40.3, 40.4, 40.5, 40.7, 40.8, 40.9, 41.0, 41.1, 41.2, 41.4, 41.5, 41.6, 41.7, 41.8, 42.0, 42.1, 42.2, 42.4,
    42.6, 42.7, 42.8, 42.9, 43.0, 43.2, 43.3, 43.4, 43.5, 43.6, 43.7, 43.9, 44.0, 44.1, 44.2, 44.3, 44.5, 44.6, 44.7, 44.9,
    45.1, 45.2, 45.3, 45.4, 45.5, 45.7, 45.8, 45.9, 46.0, 46.1, 46.2, 46.4, 46.5, 46.6, 46.7, 46.8, 47.0, 47.1, 47.2, 47.4,
    47.6, 47.7, 47.8, 47.9, 48.0, 48.2, 48.3, 48.4, 48.5, 48.6, 48.7, 48.9, 49.0, 49.1, 49.2, 49.3, 49.5, 49.6, 49.7, 49.9,
    50.1, 50.2, 50.3, 50.4, 50.5, 50.7, 50.8, 50.9, 51.0, 51.1, 51.2, 51.4, 51.5, 51.6, 51.7, 51.8, 52.0, 52.1, 52.2, 52.4,
    52.6, 52.7, 52.8, 52.9, 53.0, 53.2, 53.3, 53.4, 53.5, 53.6, 53.7, 53.9, 54.0, 54.1, 54.2, 54.3, 54.5, 54.6, 54.7, 54.9,
    55.1, 55.2, 55.3, 55.4, 55.5, 55.7, 55.8, 55.9, 56.0, 56.1, 56.2, 56.4, 56.5, 56.6, 56.7, 56.8, 57.0, 57.1, 57.2, 57.4,
    57.6, 57.7, 57.8, 57.9, 58.0, 58.2, 58.3, 58.4, 58.5, 58.6, 58.7, 58.9, 59.0, 59.1, 59.2, 59.3, 59.5, 59.6, 59.7, 59.9,
    60.1, 60.2, 60.3, 60.4, 60.5, 60.7, 60.8, 60.9, 61.0, 61.1, 61.2, 61.4, 61.5, 61.6, 61.7, 61.8, 62.0, 62.1, 62.2, 62.4,
    62.6, 62.7, 62.8, 62.9, 63.0, 63.2, 63.3, 63.4, 63.5, 63.6, 63.7, 63.9, 64.0, 64.1, 64.2, 64.3, 64.5, 64.6, 64.7, 64.9,
    65.1, 65.2, 65.3, 65.4, 65.5, 65.7, 65.8, 65.9, 66.0, 66.1, 66.2, 66.4, 66.5, 66.6, 66.7, 66.8, 67.0, 67.1, 67.2, 67.4,
]
mid_y = [
    0.05, -0.58, -0.24, 0.31, -0.84, -0.39, -0.10, -0.50, 0.16, -0.19, -0.69, -0.32, 0.46, -0.28, -0.02, -1.02, -0.15, 0.20, -0.45, -0.06,
    -0.48, 0.03, -0.76, -0.17, 0.31, -0.34, -0.96, -0.07, -0.56, 0.15, -0.22, -0.66, 0.47, -0.40, -0.28, 0.11, -0.84, -0.13, 0.25, -0.36,
    0.07, -0.62, -0.25, 0.35, -0.90, -0.42, -0.09, -0.54, 0.19, -0.19, -0.74, -0.33, 0.52, -0.29, -0.01, -1.10, -0.15, 0.23, -0.48, -0.05,
    -0.51, 0.01, -0.79, -0.19, 0.29, -0.37, -0.99, -0.09, -0.59, 0.13, -0.25, -0.69, 0.45, -0.43, -0.31, 0.09, -0.87, -0.15, 0.23, -0.39,
    0.05, -0.68, -0.29, 0.35, -0.98, -0.46, -0.12, -0.59, 0.18, -0.23, -0.81, -0.38, 0.53, -0.33, -0.03, -1.19, -0.18, 0.23, -0.53, -0.08,
    -0.60, 0.03, -0.95, -0.21, 0.38, -0.43, -1.19, -0.09, -0.70, 0.18, -0.29, -0.83, 0.57, -0.51, -0.36, 0.13, -1.05, -0.16, 0.30, -0.46,
    0.10, -0.79, -0.32, 0.46, -1.15, -0.53, -0.11, -0.68, 0.25, -0.24, -0.94, -0.42, 0.67, -0.37, -0.01, -1.41, -0.19, 0.30, -0.61, -0.06,
    -0.64, 0.05, -1.01, -0.22, 0.42, -0.45, -1.28, -0.08, -0.75, 0.21, -0.30, -0.88, 0.63, -0.53, -0.37, 0.16, -1.12, -0.16, 0.34, -0.48,
    0.11, -0.81, -0.32, 0.49, -1.19, -0.54, -0.11, -0.70, 0.27, -0.24, -0.97, -0.43, 0.70, -0.38, 0.00, -1.46, -0.19, 0.33, -0.62, -0.05,
    -0.66, 0.07, -1.06, -0.22, 0.46, -0.47, -1.34, -0.08, -0.78, 0.23, -0.30, -0.92, 0.68, -0.55, -0.38, 0.18, -1.17, -0.16, 0.37, -0.50,
    0.11, -0.90, -0.36, 0.53, -1.31, -0.60, -0.13, -0.78, 0.29, -0.27, -1.08, -0.48, 0.77, -0.42, -0.01, -1.61, -0.21, 0.35, -0.69, -0.07,
    -0.81, 0.02, -1.26, -0.30, 0.47, -0.59, -1.58, -0.14, -0.94, 0.21, -0.40, -1.10, 0.72, -0.68, -0.49, 0.15, -1.39, -0.24, 0.37, -0.62,
    0.08, -1.06, -0.46, 0.55, -1.54, -0.73, -0.19, -0.93, 0.28, -0.36, -1.27, -0.59, 0.82, -0.53, -0.05, -1.87, -0.29, 0.35, -0.83, -0.12,
]

# scatter cloud, far region (x >= 67.5)
far_x = [
    67.6, 67.7, 67.8, 67.9, 68.0, 68.2, 68.3, 68.4, 68.5, 68.6, 68.7, 68.9, 69.0, 69.1, 69.2, 69.3, 69.5, 69.6, 69.7, 69.9,
    70.1, 70.2, 70.3, 70.4, 70.5, 70.7, 70.8, 70.9, 71.0, 71.1, 71.2, 71.4, 71.5, 71.6, 71.7, 71.8, 72.0, 72.1, 72.2, 72.4,
    72.6, 72.7, 72.8, 72.9, 73.0, 73.2, 73.3, 73.4, 73.5, 73.6, 73.7, 73.9, 74.0, 74.1, 74.2, 74.3, 74.5, 74.6, 74.7, 74.9,
    75.1, 75.2, 75.3, 75.4, 75.5, 75.7, 75.8, 75.9, 76.0, 76.1, 76.2, 76.4, 76.5, 76.6, 76.7, 76.8, 77.0, 77.1, 77.2, 77.4,
    77.6, 77.7, 77.8, 77.9, 78.0, 78.2, 78.3, 78.4, 78.5, 78.6, 78.7, 78.9, 79.0, 79.1, 79.2, 79.3, 79.5, 79.6, 79.7, 79.9,
    80.1, 80.2, 80.3, 80.4, 80.5, 80.7, 80.8, 80.9, 81.0, 81.1, 81.2, 81.4, 81.5, 81.6, 81.7, 81.8, 82.0, 82.1, 82.2, 82.4,
    82.6, 82.7, 82.8, 82.9, 83.0, 83.2, 83.3, 83.4, 83.5, 83.6, 83.7, 83.9, 84.0, 84.1, 84.2, 84.3, 84.5, 84.6, 84.7, 84.9,
    85.1, 85.2, 85.3, 85.4, 85.5, 85.7, 85.8, 85.9, 86.0, 86.1, 86.2, 86.4, 86.5, 86.6, 86.7, 86.8, 87.0, 87.1, 87.2, 87.4,
    87.6, 87.7, 87.8, 87.9, 88.0, 88.2, 88.3, 88.4, 88.5, 88.6, 88.7, 88.9, 89.0, 89.1, 89.2, 89.3, 89.5, 89.6, 89.7, 89.9,
    90.1, 90.2, 90.3, 90.4, 90.5, 90.7, 90.8, 90.9, 91.0, 91.1, 91.2, 91.4, 91.5, 91.6, 91.7, 91.8, 92.0, 92.1, 92.2, 92.4,
    92.6, 92.7, 92.8, 92.9, 93.0, 93.2, 93.3, 93.4, 93.5, 93.6, 93.7, 93.9, 94.0, 94.1, 94.2, 94.3, 94.5, 94.6, 94.7, 94.9,
    95.1, 95.2, 95.3, 95.4, 95.5, 95.7, 95.8, 95.9, 96.0, 96.1, 96.2, 96.4, 96.5, 96.6, 96.7, 96.8, 97.0, 97.1, 97.2, 97.4,
    97.6, 97.7, 97.8, 97.9, 98.0, 98.2, 98.3, 98.4, 98.5, 98.6, 98.7, 98.9, 99.0, 99.1, 99.2, 99.3, 99.5, 99.6, 99.7, 99.9,
]
far_y = [
    -0.87, 0.04, -1.36, -0.31, 0.53, -0.63, -1.71, -0.14, -1.01, 0.25, -0.42, -1.19, 0.81, -0.73, -0.52, 0.18, -1.50, -0.24, 0.43, -0.66,
    0.12, -1.10, -0.45, 0.63, -1.61, -0.74, -0.17, -0.96, 0.34, -0.35, -1.32, -0.60, 0.91, -0.53, -0.02, -1.97, -0.27, 0.41, -0.85, -0.09,
    -0.91, 0.04, -1.43, -0.33, 0.55, -0.66, -1.79, -0.15, -1.06, 0.25, -0.44, -1.24, 0.84, -0.77, -0.55, 0.18, -1.57, -0.26, 0.44, -0.70,
    0.12, -1.16, -0.48, 0.65, -1.68, -0.78, -0.18, -1.01, 0.35, -0.37, -1.38, -0.63, 0.95, -0.56, -0.03, -2.06, -0.29, 0.42, -0.89, -0.11,
    -0.95, 0.08, -1.50, -0.32, 0.63, -0.67, -1.89, -0.12, -1.10, 0.31, -0.44, -1.30, 0.94, -0.79, -0.55, 0.23, -1.65, -0.24, 0.51, -0.71,
    0.18, -1.24, -0.49, 0.76, -1.82, -0.82, -0.16, -1.07, 0.42, -0.37, -1.49, -0.66, 1.09, -0.57, 0.01, -2.23, -0.28, 0.51, -0.95, -0.07,
    -1.05, 0.09, -1.67, -0.35, 0.71, -0.75, -2.11, -0.13, -1.23, 0.35, -0.48, -1.45, 1.06, -0.88, -0.61, 0.27, -1.85, -0.26, 0.57, -0.79,
    0.16, -1.35, -0.55, 0.79, -1.97, -0.91, -0.19, -1.17, 0.43, -0.42, -1.62, -0.73, 1.14, -0.64, -0.02, -2.42, -0.33, 0.52, -1.04, -0.11,
    -1.07, 0.04, -1.67, -0.39, 0.63, -0.77, -2.09, -0.18, -1.24, 0.29, -0.52, -1.45, 0.97, -0.90, -0.65, 0.21, -1.84, -0.31, 0.50, -0.82,
    0.13, -1.31, -0.55, 0.72, -1.90, -0.89, -0.21, -1.14, 0.38, -0.42, -1.56, -0.72, 1.05, -0.63, -0.04, -2.32, -0.34, 0.46, -1.01, -0.13,
    -1.04, 0.08, -1.64, -0.35, 0.68, -0.74, -2.07, -0.14, -1.21, 0.34, -0.48, -1.43, 1.03, -0.87, -0.61, 0.25, -1.81, -0.26, 0.55, -0.78,
    0.18, -1.32, -0.53, 0.79, -1.93, -0.88, -0.17, -1.14, 0.44, -0.39, -1.58, -0.70, 1.15, -0.61, 0.00, -2.37, -0.31, 0.53, -1.01, -0.09,
    -1.11, 0.08, -1.75, -0.38, 0.71, -0.79, -2.20, -0.15, -1.29, 0.35, -0.52, -1.52, 1.08, -0.93, -0.65, 0.26, -1.93, -0.29, 0.58, -0.84,
]

# sparse points outside the dense band, x < 35
edge_x = [7.7, 14.8, 13.1, 11.9, 16.9, 19.2, 20.5, 14.9, 17.9, 19.6, 21.3, 24.1, 23.2, 26.4, 27.2, 23.0,
          25.2, 28.3, 29.7, 31.2, 33.6, 32.2, 28.8, 24.0, 27.6, 17.0, 22.5, 28.0, 30.5, 26.0]
edge_y = [-0.46, 0.31, -0.46, -0.32, -0.71, 0.42, 0.32, -0.32, -0.42, -0.40, -0.66, 0.49, 0.45, -0.79, -0.71, -0.55,
          -0.69, 0.59, 0.53, -0.66, -0.79, -0.73, -0.59, -0.79, -0.57, -1.06, -0.95, -1.05, -1.15, -0.90]

# sparse points above the band
high_x = [31.6, 32.7, 33.5, 34.7, 37.2, 38.1, 40.6, 41.9, 42.0, 43.6, 44.4, 44.9, 48.0, 47.3, 49.8, 51.1,
          51.5, 52.9, 53.3, 53.7, 54.9, 55.7, 56.4, 57.7, 57.9, 58.3, 59.4, 60.1, 60.8, 61.3, 62.0, 62.1,
          63.0, 63.6, 63.7, 64.1, 64.3, 63.5, 65.4, 66.0, 66.8, 67.3, 68.2, 67.9, 68.4, 69.5, 70.1, 71.0,
          72.4, 72.5, 72.8, 73.2, 73.9, 74.5, 75.3, 75.4, 76.1, 76.5, 77.8, 78.0, 78.9, 80.2, 80.7, 81.4,
          80.5, 81.8, 82.6, 83.0, 83.7, 84.2, 85.0, 85.1, 86.2, 86.4, 87.4, 87.9, 89.1, 89.3, 89.8, 90.3,
          90.8, 92.0, 92.5, 93.4, 94.2, 95.1, 95.4, 96.8, 98.3, 98.8, 99.2, 93.3, 95.7, 96.4, 95.0, 98.9,
          93.4, 99.0, 99.5, 86.3, 80.1]
high_y = [0.62, 0.61, 0.63, 0.64, 0.71, 0.75, 0.62, 0.87, 0.71, 0.78, 0.77, 0.61, 0.84, 0.62, 0.64, 0.69,
          0.80, 0.83, 0.98, 0.77, 0.73, 0.80, 0.89, 0.90, 1.17, 0.78, 0.97, 1.02, 1.02, 0.88, 1.02, 0.80,
          0.73, 1.00, 1.09, 1.17, 1.32, 1.42, 0.89, 0.76, 1.25, 1.02, 1.05, 0.94, 0.91, 1.29, 1.45, 1.22,
          1.40, 1.15, 1.29, 1.09, 1.18, 1.14, 1.45, 1.25, 0.80, 1.27, 1.25, 1.09, 1.33, 1.41, 1.41, 1.42,
          0.99, 1.21, 1.25, 1.18, 1.12, 1.09, 1.30, 1.14, 1.09, 1.45, 1.32, 1.09, 1.32, 1.34, 1.25, 1.03,
          1.27, 1.18, 1.27, 1.32, 1.32, 1.25, 1.12, 1.18, 1.27, 1.14, 1.18, 1.81, 1.85, 1.87, 1.60, 1.61,
          1.60, 1.48, 1.38, 1.44, 1.99]

# sparse points below the band
low_x = [36.8, 44.0, 50.1, 54.4, 53.0, 57.9, 67.2, 68.0, 68.0, 66.9, 64.7, 67.3, 68.0, 65.2, 64.8, 63.3,
         59.4, 56.3, 54.1, 54.5, 50.6, 47.9, 44.3, 47.3, 48.2, 50.4, 51.1, 51.8, 53.3, 53.4, 54.0, 54.4,
         55.6, 55.9, 56.4, 58.0, 58.3, 59.2, 59.9, 60.8, 61.1, 61.4, 61.7, 62.2, 62.8, 63.5, 64.4, 65.3,
         66.1, 66.3, 67.3, 67.7, 66.2, 66.4, 68.3, 44.3, 44.0, 47.9, 33.0, 33.7, 32.9, 36.0, 37.6, 38.4,
         39.2, 39.9, 38.8, 41.2, 41.4, 41.7, 42.4, 43.8, 44.1, 45.7, 44.7, 45.5, 46.3, 47.5, 48.1, 49.1,
         49.8, 50.1, 50.7, 51.2, 51.5, 53.0, 54.1, 54.9, 55.4, 56.1, 56.9, 58.0, 58.5, 60.2, 60.8, 62.0,
         62.2, 63.2, 64.5, 65.6, 65.7, 67.2,
         69.9, 69.2, 79.1, 79.5, 85.7, 87.4, 88.9, 87.7, 82.9, 93.5, 93.6, 92.9, 92.5, 96.9, 97.0, 97.2,
         97.4, 98.8, 99.9, 84.4, 77.1, 80.0, 81.0, 73.1, 73.2, 71.3, 76.4, 78.6, 78.4, 78.3, 81.3, 82.1,
         83.2, 83.3, 86.4, 88.1, 88.0, 89.0, 89.4, 90.0, 91.4, 92.2, 92.7, 92.8, 95.7, 95.8, 95.6, 97.2,
         99.8, 99.1, 99.4, 71.7, 74.4, 75.6, 76.4, 81.4, 82.8, 84.2, 85.4, 88.6, 90.0, 91.2, 93.6, 95.2,
         95.7, 97.3, 97.8, 98.5, 99.2, 75.1, 99.0]
low_y = [-1.68, -1.87, -2.31, -2.40, -2.50, -2.88, -3.37, -2.44, -2.68, -2.32, -2.15, -2.03, -2.09, -1.99, -1.92, -1.97,
         -1.97, -1.81, -1.87, -1.86, -1.68, -1.69, -1.56, -1.56, -1.54, -1.54, -1.58, -1.52, -1.47, -1.54, -1.50, -1.56,
         -1.47, -1.60, -1.49, -1.65, -1.54, -1.60, -1.43, -1.58, -1.62, -1.45, -1.52, -1.41, -1.49, -1.43, -1.64, -1.64,
         -1.62, -1.80, -1.62, -1.62, -1.53, -1.52, -1.49, -1.37, -1.35, -1.34, -1.03, -1.12, -1.29, -1.07, -1.19, -1.24,
         -1.17, -1.23, -1.25, -1.16, -1.27, -1.17, -1.19, -1.35, -1.39, -1.33, -1.17, -1.13, -1.08, -1.25, -1.33, -1.26,
         -1.11, -1.27, -1.32, -1.26, -1.17, -1.25, -1.23, -1.31, -1.21, -1.27, -1.26, -1.26, -1.34, -1.27, -1.22, -1.23,
         -1.26, -1.29, -1.27, -1.25, -1.37, -1.35,
         -3.05, -2.69, -3.31, -3.02, -3.52, -3.47, -3.29, -2.96, -2.81, -4.12, -3.43, -3.02, -2.86, -2.90, -2.94, -3.19,
         -3.24, -3.19, -3.86, -2.65, -2.61, -2.61, -2.62, -2.43, -2.35, -2.27, -2.32, -2.32, -2.40, -2.45, -2.31, -2.40,
         -2.42, -2.49, -2.53, -2.58, -2.62, -2.69, -2.63, -2.43, -2.35, -2.44, -2.58, -2.72, -2.61, -2.71, -2.43, -2.44,
         -2.21, -2.17, -2.12, -2.11, -2.09, -2.06, -2.12, -2.16, -2.12, -2.15, -2.07, -2.14, -2.24, -2.35, -2.14, -2.33,
         -2.22, -2.45, -2.17, -2.18, -2.14, -4.38, -3.26]

# ---------------- styling ----------------
FONT = "Liberation Sans"
FS = "15px"
RED = "#ff0000"
GREEN = "#00c000"
BLUE = "#0080ff"
MAGENTA = "#b000f0"

p = figure(width=792, height=592, output_backend="svg", toolbar_location=None,
           x_range=Range1d(0, 100), y_range=Range1d(-5, 2),
           min_border_left=84, min_border_right=17, min_border_top=19, min_border_bottom=53,
           background_fill_color="white", border_fill_color="white")
p.xgrid.visible = False
p.ygrid.visible = False
p.outline_line_color = "black"
p.outline_line_width = 1

for ax, ticks in ((p.xaxis[0], x_ticks), (p.yaxis[0], y_ticks)):
    ax.ticker = FixedTicker(ticks=ticks)
    ax.major_tick_in = 6
    ax.major_tick_out = 0
    ax.minor_tick_in = 0
    ax.minor_tick_out = 0
    ax.axis_line_color = "black"
    ax.major_tick_line_color = "black"
    ax.major_label_text_font = FONT
    ax.major_label_text_font_size = FS
    ax.major_label_text_color = "black"
    ax.axis_label_text_font = FONT
    ax.axis_label_text_font_size = FS
    ax.axis_label_text_font_style = "normal"
    ax.axis_label_text_color = "black"

p.xaxis.axis_label = "input_sigma"
p.xaxis.major_label_standoff = 12
p.xaxis.axis_label_standoff = 3
p.yaxis.axis_label = "fitted_mean - mean"
p.yaxis.major_label_standoff = 15
p.yaxis.axis_label_standoff = 9

# mirrored ticks on top and right
top_ax = LinearAxis(ticker=FixedTicker(ticks=x_ticks), major_tick_in=6, major_tick_out=0,
                    minor_tick_in=0, minor_tick_out=0, major_label_standoff=0,
                    major_label_overrides={t: "" for t in x_ticks})
right_ax = LinearAxis(ticker=FixedTicker(ticks=y_ticks), major_tick_in=6, major_tick_out=0,
                      minor_tick_in=0, minor_tick_out=0, major_label_standoff=0,
                      major_label_overrides={t: "" for t in y_ticks})
p.add_layout(top_ax, "above")
p.add_layout(right_ax, "right")

# scatter cloud
for xs, ys in ((near_x, near_y), (core_x, core_y), (dense_x, dense_y), (fill_x, fill_y),
               (mid_x, mid_y), (far_x, far_y), (edge_x, edge_y), (high_x, high_y), (low_x, low_y)):
    p.scatter(xs, ys, marker="square", size=2, fill_color=RED, line_color=None)

# error bars
p.segment(x0=err_x, y0=err_low, x1=err_x, y1=err_high, line_color=GREEN, line_width=1.2)
p.scatter(err_x, err_high, marker="dash", size=7, line_color=GREEN, line_width=1.2)
p.scatter(err_x, err_low, marker="dash", size=7, line_color=GREEN, line_width=1.2)
p.scatter(err_x, err_mean, marker="dash", size=7, line_color=GREEN, line_width=1.2)

# lines
p.line(zero_x, zero_y, line_color=BLUE, line_width=1.3)
p.line(fit_x, fit_y, line_color=MAGENTA, line_width=1.3)

# key (text left, sample right, as in gnuplot)
key_text_x = 88.5
key_line_x0 = 90.45
key_line_x1 = 97.2
key_rows_y = [1.802, 1.542]
for txt, yy, col in ((zero_label, key_rows_y[0], BLUE), (fit_label, key_rows_y[1], MAGENTA)):
    p.add_layout(Label(x=key_text_x, y=yy, text=txt, text_align="right", text_baseline="middle",
                       text_font=FONT, text_font_size=FS, text_color="black"))
    p.add_layout(BoxAnnotation(left=key_line_x0, right=key_line_x1, bottom=yy, top=yy,
                               fill_alpha=0, line_color=col, line_width=1.3, line_alpha=1))

open("out.html", "w").write(file_html(p, INLINE))
